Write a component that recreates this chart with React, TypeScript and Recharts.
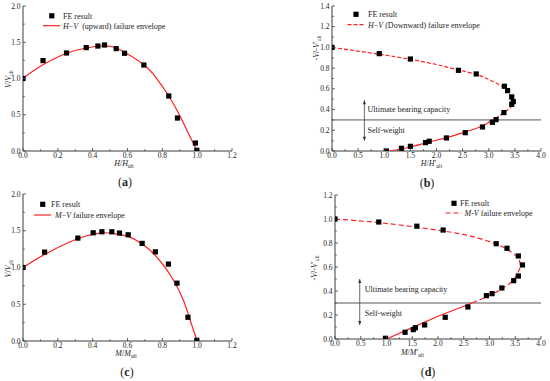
import React from 'react';
import { ScatterChart, Scatter, XAxis, YAxis, ReferenceLine, ReferenceDot } from 'recharts';

const FONT = '"Liberation Serif", "Times New Roman", serif';
const RED = '#ff2020';
const AXIS = '#3c3c3c';
const INK = '#1e1e1e';

// (a) H-V upward
const feA_H = [0, 0.115, 0.25, 0.363, 0.43, 0.468, 0.535, 0.583, 0.694, 0.837, 0.887, 0.99, 0.998];
const feA_V = [1.0, 1.247, 1.352, 1.426, 1.448, 1.462, 1.412, 1.348, 1.186, 0.759, 0.455, 0.11, 0.01];
const envA_H = [0, 0.1, 0.25, 0.363, 0.443, 0.52, 0.583, 0.694, 0.768, 0.837, 0.902, 0.95, 1.0];
const envA_V = [1.0, 1.168, 1.348, 1.421, 1.448, 1.435, 1.361, 1.19, 0.999, 0.759, 0.479, 0.24, 0];

// (b) H-V downward
const feB_H = [0, 0.905, 1.5, 2.42, 2.76, 3.3, 3.36, 3.44, 3.47, 3.44, 3.29, 3.14, 3.07, 2.88, 2.55, 2.19, 1.86, 1.79, 1.5, 1.33, 1.04];
const feB_V = [1.0, 0.94, 0.888, 0.779, 0.744, 0.625, 0.583, 0.522, 0.477, 0.451, 0.371, 0.303, 0.277, 0.232, 0.177, 0.126, 0.094, 0.081, 0.045, 0.026, 0];
const envB_upper_H = [0, 0.9, 1.5, 2.0, 2.4, 2.76, 3.0, 3.2, 3.33, 3.41, 3.46, 3.45, 3.35, 3.22, 3.06];
const envB_upper_V = [1.0, 0.935, 0.885, 0.835, 0.785, 0.74, 0.69, 0.64, 0.59, 0.54, 0.49, 0.44, 0.393, 0.345, 0.3];
const envB_lower_H = [3.06, 2.88, 2.55, 2.19, 1.86, 1.5, 1.25, 1.1];
const envB_lower_V = [0.3, 0.242, 0.184, 0.129, 0.087, 0.039, 0.012, 0];

// (c) M-V
const feC_M = [0, 0.124, 0.315, 0.403, 0.453, 0.51, 0.554, 0.604, 0.684, 0.76, 0.835, 0.884, 0.947, 0.998];
const feC_V = [1.0, 1.209, 1.4, 1.472, 1.486, 1.486, 1.468, 1.445, 1.328, 1.213, 1.046, 0.787, 0.323, 0.01];
const envC_M = [0, 0.124, 0.271, 0.367, 0.462, 0.539, 0.616, 0.692, 0.749, 0.806, 0.864, 0.921, 0.96, 1.0];
const envC_V = [1.0, 1.178, 1.35, 1.432, 1.472, 1.455, 1.41, 1.305, 1.19, 1.032, 0.827, 0.555, 0.282, 0];

// (d) M-V downward
const feD_M = [0, 0.85, 1.59, 2.1, 3.13, 3.34, 3.56, 3.64, 3.56, 3.47, 3.24, 3.05, 2.94, 2.58, 2.14, 1.74, 1.56, 1.52, 1.36, 0.98];
const feD_V = [1.0, 0.975, 0.94, 0.908, 0.794, 0.756, 0.692, 0.617, 0.525, 0.486, 0.425, 0.378, 0.361, 0.267, 0.181, 0.117, 0.094, 0.078, 0.056, 0.006];
const envD_upper_M = [0, 0.6, 1.26, 2.1, 2.68, 3.14, 3.36, 3.53, 3.6, 3.56, 3.46, 3.2, 2.88, 2.66];
const envD_upper_V = [1.0, 0.98, 0.95, 0.9, 0.853, 0.789, 0.742, 0.686, 0.617, 0.561, 0.49, 0.408, 0.339, 0.3];
const envD_lower_M = [2.66, 2.0, 1.5, 1.0];
const envD_lower_V = [0.3, 0.19, 0.095, 0];

// ticks (major + minor)
const ticksUnitX = [0, 0.1, 0.2, 0.3, 0.4, 0.5, 0.6, 0.7, 0.8, 0.9, 1.0, 1.1, 1.2];
const ticksUnitY = [0, 0.25, 0.5, 0.75, 1.0, 1.25, 1.5, 1.75, 2.0];
const ticksWideX = [0, 0.25, 0.5, 0.75, 1.0, 1.25, 1.5, 1.75, 2.0, 2.25, 2.5, 2.75, 3.0, 3.25, 3.5, 3.75, 4.0];
const ticksB_Y = [0, 0.1, 0.2, 0.3, 0.4, 0.5, 0.6, 0.7, 0.8, 0.9, 1.0, 1.1, 1.2, 1.3, 1.4];
const ticksD_Y = [0, 0.1, 0.2, 0.3, 0.4, 0.5, 0.6, 0.7, 0.8, 0.9, 1.0, 1.1, 1.2];

const SELF_WEIGHT = 0.3;

const zip = (xs: number[], ys: number[]) => xs.map((x, i) => ({ x, y: ys[i] }));

const isMajor = (v: number, step: number) => Math.abs(v / step - Math.round(v / step)) < 1e-6;

const makeXTick = (step: number) => (p: any) => {
  const { x, y, payload } = p;
  const major = isMajor(payload.value, step);
  return (
    <g>
      <line x1={x} x2={x} y1={y} y2={y - (major ? 3 : 1.8)} stroke={AXIS} strokeWidth={0.8} />
      {major && (
        <text x={x} y={y + 7.3} textAnchor="middle" fontFamily={FONT} fontSize={7.5} fill={INK}>
          {payload.value.toFixed(1)}
        </text>
      )}
    </g>
  );
};

const makeYTick = (step: number) => (p: any) => {
  const { x, y, payload } = p;
  const major = isMajor(payload.value, step);
  return (
    <g>
      <line x1={x} x2={x + (major ? 3 : 1.8)} y1={y} y2={y} stroke={AXIS} strokeWidth={0.8} />
      {major && (
        <text x={x - 2.5} y={y + 2.6} textAnchor="end" fontFamily={FONT} fontSize={7.5} fill={INK}>
          {payload.value.toFixed(1)}
        </text>
      )}
    </g>
  );
};

const Square = (p: any) => <rect x={p.cx - 2.6} y={p.cy - 2.6} width={5.2} height={5.2} fill="#000" />;
const NoDot = () => <g />;

const ArrowUp = (p: any) => <path d={`M${p.cx},${p.cy} l-1.6,4 h3.2 z`} fill="#333" />;
const ArrowDown = (p: any) => <path d={`M${p.cx},${p.cy} l-1.6,-4 h3.2 z`} fill="#333" />;
const Note = (label: string) => (p: any) => (
  <text x={p.cx} y={p.cy} fontFamily={FONT} fontSize={8} fill={INK}>
    {label}
  </text>
);

type PanelProps = {
  left: number;
  top: number;
  margin: { top: number; right: number; left: number; bottom: number };
  yWidth: number;
  xHeight: number;
  xDomain: [number, number];
  yDomain: [number, number];
  xTicks: number[];
  yTicks: number[];
  xStep: number;
  yStep: number;
  children: React.ReactNode;
};

const Panel = ({ left, top, margin, yWidth, xHeight, xDomain, yDomain, xTicks, yTicks, xStep, yStep, children }: PanelProps) => (
  <div style={{ position: 'absolute', left, top, width: 275, height: 190 }}>
    <ScatterChart width={275} height={190} margin={margin}>
      <XAxis
        dataKey="x"
        type="number"
        domain={xDomain}
        ticks={xTicks}
        interval={0}
        allowDataOverflow
        tickSize={0}
        tickMargin={0}
        tickLine={false}
        axisLine={{ stroke: AXIS, strokeWidth: 1 }}
        tick={makeXTick(xStep)}
        height={xHeight}
      />
      <YAxis
        dataKey="y"
        type="number"
        domain={yDomain}
        ticks={yTicks}
        interval={0}
        allowDataOverflow
        tickSize={0}
        tickMargin={0}
        tickLine={false}
        axisLine={{ stroke: AXIS, strokeWidth: 1 }}
        tick={makeYTick(yStep)}
        width={yWidth}
      />
      <XAxis xAxisId="top" orientation="top" type="number" domain={xDomain} tick={false} tickLine={false} height={0} axisLine={{ stroke: AXIS, strokeWidth: 1 }} />
      <YAxis yAxisId="right" orientation="right" type="number" domain={yDomain} tick={false} tickLine={false} width={0} axisLine={{ stroke: AXIS, strokeWidth: 1 }} />
      {children}
    </ScatterChart>
  </div>
);

const Sub = ({ children }: { children: React.ReactNode }) => (
  <tspan fontSize={5.5} dy={2}>
    {children}
  </tspan>
);
const I = ({ children }: { children: React.ReactNode }) => <tspan fontStyle="italic">{children}</tspan>;

const Overlay = () => (
  <svg width={550} height={381} style={{ position: 'absolute', left: 0, top: 0, pointerEvents: 'none' }} fontFamily={FONT} fill={INK}>
    {/* (a) legend */}
    <rect x={49.2} y={13.2} width={5.2} height={5.2} fill="#000" />
    <text x={63} y={18.6} fontSize={8}>FE result</text>
    <line x1={43} x2={60} y1={25.7} y2={25.7} stroke={RED} strokeWidth={1.2} />
    <text x={63} y={28.6} fontSize={8} xmlSpace="preserve">
      <I>H</I>−<I>V</I>{'  (upward) failure envelope'}
    </text>
    {/* (b) legend */}
    <rect x={353.4} y={11.7} width={5.2} height={5.2} fill="#000" />
    <text x={368} y={17.2} fontSize={8}>FE result</text>
    <line x1={347.5} x2={365} y1={24.7} y2={24.7} stroke={RED} strokeWidth={1.2} strokeDasharray="4 2" />
    <text x={368} y={27.5} fontSize={8}>
      <I>H</I>−<I>V</I> (Downward) failure envelope
    </text>
    {/* (c) legend */}
    <rect x={40.1} y={201.7} width={5.2} height={5.2} fill="#000" />
    <text x={51} y={207} fontSize={8}>FE result</text>
    <line x1={34} x2={51} y1={215} y2={215} stroke={RED} strokeWidth={1.2} />
    <text x={55} y={218} fontSize={8}>
      <I>M</I>−<I>V</I> failure envelope
    </text>
    {/* (d) legend */}
    <rect x={451.4} y={200.7} width={5.2} height={5.2} fill="#000" />
    <text x={460} y={206} fontSize={8}>FE result</text>
    <line x1={445.5} x2={462} y1={213} y2={213} stroke={RED} strokeWidth={1.2} strokeDasharray="5 3" />
    <text x={464.5} y={216} fontSize={8}>
      <I>M</I>-<I>V</I> failure envelope
    </text>

    {/* axis titles */}
    <text x={124} y={166} fontSize={8} textAnchor="middle">
      <I>H</I>/<I>H</I>
      <Sub>ult</Sub>
    </text>
    <text x={431.5} y={166} fontSize={8} textAnchor="middle">
      <I>H</I>/<I>H</I>′<Sub>ult</Sub>
    </text>
    <text x={126} y={356} fontSize={8} textAnchor="middle">
      <I>M</I>/<I>M</I>
      <Sub>ult</Sub>
    </text>
    <text x={412.5} y={355} fontSize={8} textAnchor="middle">
      <I>M</I>/<I>M</I>′<Sub>ult</Sub>
    </text>
    <text x={11} y={79} fontSize={8} textAnchor="middle" transform="rotate(-90 11 79)">
      <I>V</I>/<I>V</I>
      <Sub>ult</Sub>
    </text>
    <text x={11} y={268.5} fontSize={8} textAnchor="middle" transform="rotate(-90 11 268.5)">
      <I>V</I>/<I>V</I>
      <Sub>ult</Sub>
    </text>
    <text x={318.5} y={48} fontSize={8} textAnchor="middle" transform="rotate(-90 318.5 48)">
      -<I>V</I>/-<I>V</I>′<Sub>ult</Sub>
    </text>
    <text x={316.5} y={268} fontSize={8} textAnchor="middle" transform="rotate(-90 316.5 268)">
      -<I>V</I>/-<I>V</I>′<Sub>ult</Sub>
    </text>

    {/* panel letters */}
    <text x={125} y={186} fontSize={12} textAnchor="middle">
      (<tspan fontWeight="bold">a</tspan>)
    </text>
    <text x={427} y={186.5} fontSize={12} textAnchor="middle">
      (<tspan fontWeight="bold">b</tspan>)
    </text>
    <text x={127} y={376} fontSize={12} textAnchor="middle">
      (<tspan fontWeight="bold">c</tspan>)
    </text>
    <text x={428} y={376} fontSize={12} textAnchor="middle">
      (<tspan fontWeight="bold">d</tspan>)
    </text>
  </svg>
);

const envelope = (dash?: string) => ({ stroke: RED, strokeWidth: 1.2, strokeDasharray: dash });

export default function App() {
  return (
    <div style={{ position: 'absolute', left: 0, top: 0, width: 550, height: 381, background: '#fff' }}>
      <Panel left={0} top={0} margin={{ top: 6, right: 43, left: 0, bottom: 0 }} yWidth={23} xHeight={39}
        xDomain={[0, 1.2]} yDomain={[0, 2]} xTicks={ticksUnitX} yTicks={ticksUnitY} xStep={0.2} yStep={0.5}>
        <Scatter data={zip(envA_H, envA_V)} line={envelope()} lineJointType="natural" shape={NoDot} isAnimationActive={false} />
        <Scatter data={zip(feA_H, feA_V)} shape={Square} isAnimationActive={false} />
      </Panel>

      <Panel left={275} top={0} margin={{ top: 6, right: 9, left: 0, bottom: 0 }} yWidth={57} xHeight={39}
        xDomain={[0, 4]} yDomain={[0, 1.4]} xTicks={ticksWideX} yTicks={ticksB_Y} xStep={0.5} yStep={0.2}>
        <ReferenceLine y={SELF_WEIGHT} stroke="#555" strokeWidth={1} />
        <ReferenceLine segment={[{ x: 0.62, y: 0.1 }, { x: 0.62, y: 0.49 }]} stroke="#444" strokeWidth={0.8} />
        <ReferenceDot x={0.62} y={0.49} shape={ArrowUp} />
        <ReferenceDot x={0.62} y={0.1} shape={ArrowDown} />
        <ReferenceDot x={0.68} y={0.377} shape={Note('Ultimate bearing capacity')} />
        <ReferenceDot x={0.68} y={0.174} shape={Note('Self-weight')} />
        <Scatter data={zip(envB_upper_H, envB_upper_V)} line={envelope('4 2')} lineJointType="natural" shape={NoDot} isAnimationActive={false} />
        <Scatter data={zip(envB_lower_H, envB_lower_V)} line={envelope()} lineJointType="natural" shape={NoDot} isAnimationActive={false} />
        <Scatter data={zip(feB_H, feB_V)} shape={Square} isAnimationActive={false} />
      </Panel>

      <Panel left={0} top={190} margin={{ top: 4, right: 43, left: 0, bottom: 0 }} yWidth={23} xHeight={39}
        xDomain={[0, 1.2]} yDomain={[0, 2]} xTicks={ticksUnitX} yTicks={ticksUnitY} xStep={0.2} yStep={0.5}>
        <Scatter data={zip(envC_M, envC_V)} line={envelope()} lineJointType="natural" shape={NoDot} isAnimationActive={false} />
        <Scatter data={zip(feC_M, feC_V)} shape={Square} isAnimationActive={false} />
      </Panel>

      <Panel left={275} top={190} margin={{ top: 5, right: 9, left: 0, bottom: 0 }} yWidth={60} xHeight={41}
        xDomain={[0, 4]} yDomain={[0, 1.2]} xTicks={ticksWideX} yTicks={ticksD_Y} xStep={0.5} yStep={0.2}>
        <ReferenceLine y={SELF_WEIGHT} stroke="#555" strokeWidth={1} />
        <ReferenceLine segment={[{ x: 0.48, y: 0.117 }, { x: 0.48, y: 0.5 }]} stroke="#444" strokeWidth={0.8} />
        <ReferenceDot x={0.48} y={0.5} shape={ArrowUp} />
        <ReferenceDot x={0.48} y={0.117} shape={ArrowDown} />
        <ReferenceDot x={0.577} y={0.389} shape={Note('Ultimate bearing capacity')} />
        <ReferenceDot x={0.577} y={0.189} shape={Note('Self-weight')} />
        <Scatter data={zip(envD_upper_M, envD_upper_V)} line={envelope('5 3')} lineJointType="natural" shape={NoDot} isAnimationActive={false} />
        <Scatter data={zip(envD_lower_M, envD_lower_V)} line={envelope()} lineJointType="linear" shape={NoDot} isAnimationActive={false} />
        <Scatter data={zip(feD_M, feD_V)} shape={Square} isAnimationActive={false} />
      </Panel>

      <Overlay />
    </div>
  );
}
